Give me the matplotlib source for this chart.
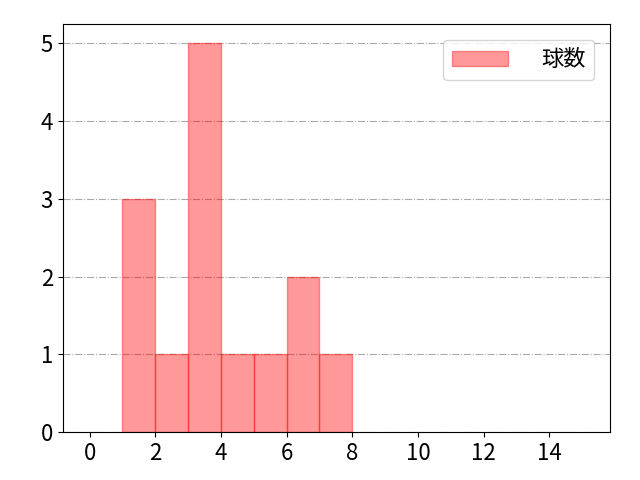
import matplotlib
matplotlib.use("Agg")
import matplotlib.pyplot as plt

plt.rcParams['font.family'] = ['Noto Sans CJK JP', 'DejaVu Sans']
plt.rcParams['font.size'] = 16

# bin edges and counts
bin_left = [1, 2, 3, 4, 5, 6, 7]
counts = [3, 1, 5, 1, 1, 2, 1]
label = '球数'

fig, ax = plt.subplots(figsize=(6.4, 4.8), dpi=100)
ax.bar(bin_left, counts, width=1, align='edge', color='red', alpha=0.4,
       edgecolor='red', linewidth=1, label=label, zorder=2)
ax.grid(axis='y', linestyle='-.', color='#aaaaaa', linewidth=0.8, zorder=1)
ax.set_xlim(-0.82, 15.85)
ax.set_ylim(0, 5.25)
ax.set_xticks(range(0, 15, 2))
ax.legend(loc='upper right', handlelength=2.5, handletextpad=1.5,
          borderaxespad=0.7)
fig.subplots_adjust(left=0.098, right=0.953, top=0.95, bottom=0.1)
fig.savefig('out.png')
